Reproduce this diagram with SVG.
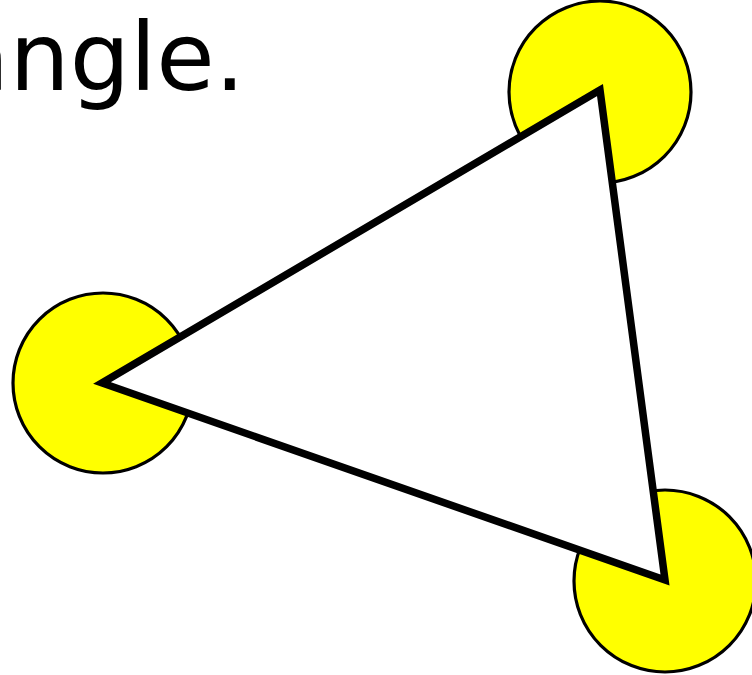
<svg xmlns="http://www.w3.org/2000/svg" width="752" height="675" viewBox="0 0 752 675">
<style>
.dot{fill:#ffff00;stroke:#000;stroke-width:3.2}
.tri{fill:#fff;stroke:#000;stroke-width:7.5;stroke-linejoin:miter}
.lbl{font-family:"DejaVu Sans",sans-serif;font-size:95px;fill:#000}
</style>
<rect width="752" height="675" fill="#fff"/>
<text class="lbl" x="-48.8" y="90">angle.</text>
<g id="node-top"><circle class="dot" cx="600" cy="92" r="91"/></g>
<g id="node-left"><circle class="dot" cx="103" cy="383" r="90"/></g>
<g id="node-bottom"><circle class="dot" cx="665" cy="581" r="91"/></g>
<g id="connectors"><polygon class="tri" points="600,90 102,383 665,580"/></g>
</svg>
